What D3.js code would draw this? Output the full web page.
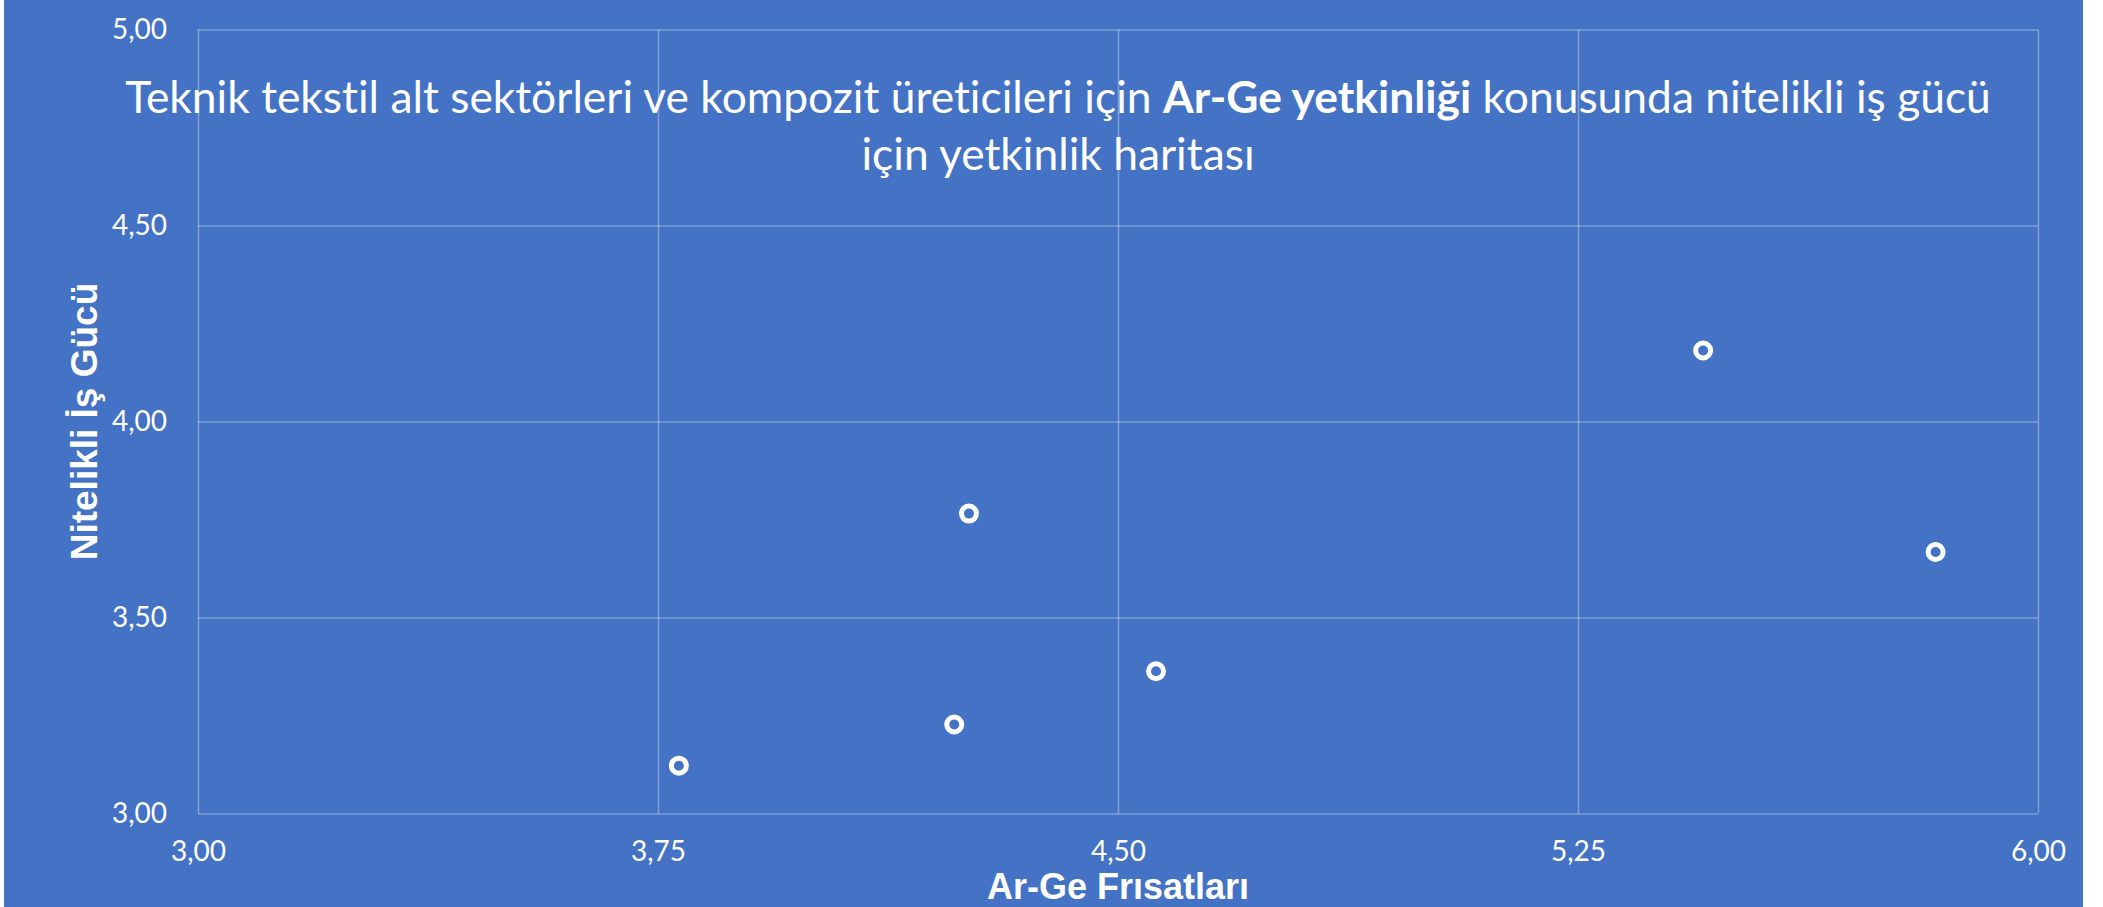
<!DOCTYPE html>
<html>
<head>
<meta charset="utf-8">
<script src="https://cdn.jsdelivr.net/npm/d3@7"></script>
<style>
  html, body { margin: 0; padding: 0; background: #ffffff; }
  svg { display: block; }
  text { font-variant-ligatures: none; }
</style>
</head>
<body>
<script>
// chart values
const xTicks   = [3.00, 3.75, 4.50, 5.25, 6.00];
const yTicks   = [3.00, 3.50, 4.00, 4.50, 5.00];
const argeX    = [3.784, 4.233, 4.257, 4.562, 5.454, 5.833];   // Ar-Ge Fırsatları
const isgucuY  = [3.122, 3.227, 3.765, 3.363, 4.181, 3.667];   // Nitelikli İş Gücü
const titleLine1 = ["Teknik tekstil alt sektörleri ve kompozit üreticileri için ", "Ar-Ge yetkinliği", " konusunda nitelikli iş gücü"];
const titleLine2 = "için yetkinlik haritası";
const xTitle = "Ar-Ge Frısatları";
const yTitle = "Nitelikli İş Gücü";

const W = 2103, H = 907;
const margin = {top: 29.5, left: 198, right: 65, bottom: 93.5};
const width  = W - margin.left - margin.right;
const height = H - margin.top - margin.bottom;

const blue = "#4472C4";
const fmt = d3.formatLocale({decimal: ",", thousands: ".", grouping: [3], currency: ["", ""]}).format(".2f");

const svg = d3.select("body").append("svg")
  .attr("width", W)
  .attr("height", H);

// slide background
svg.append("rect")
  .attr("x", 4).attr("y", 0)
  .attr("width", 2079).attr("height", H)
  .attr("fill", blue);

const xScale = d3.scaleLinear().domain([3, 6]).range([0, width]);
const yScale = d3.scaleLinear().domain([3, 5]).range([height, 0]);

const plot = svg.append("g")
  .attr("transform", `translate(${margin.left},${margin.top})`);

const xAxis = d3.axisBottom(xScale).tickValues(xTicks).tickFormat(fmt)
  .tickSize(-height).tickPadding(28);
const yAxis = d3.axisLeft(yScale).tickValues(yTicks).tickFormat(fmt)
  .tickSize(-width).tickPadding(31);

const gx = plot.append("g")
  .attr("transform", `translate(0,${height})`)
  .call(xAxis);
const gy = plot.append("g").call(yAxis);

[gx, gy].forEach(g => {
  g.select(".domain").remove();
  g.selectAll(".tick line")
    .attr("stroke", "#ffffff")
    .attr("stroke-opacity", 0.32)
    .attr("stroke-width", 1.5);
  g.selectAll(".tick text")
    .attr("fill", "#ffffff")
    .style("font-family", "Lato, 'Open Sans', sans-serif")
    .style("font-size", "28px");
});

// points
plot.append("g")
  .selectAll("circle")
  .data(d3.zip(argeX, isgucuY))
  .join("circle")
  .attr("cx", d => xScale(d[0]))
  .attr("cy", d => yScale(d[1]))
  .attr("r", 7.5)
  .attr("fill", blue)
  .attr("stroke", "#ffffff")
  .attr("stroke-width", 5);

// title
const title = svg.append("g")
  .style("font-family", "Lato, 'Open Sans', sans-serif")
  .attr("fill", "#ffffff")
  .attr("text-anchor", "middle");

const t1 = title.append("text")
  .attr("x", 1058).attr("y", 113)
  .style("font-size", "44px");
t1.selectAll("tspan")
  .data(titleLine1)
  .join("tspan")
  .style("font-weight", (d, i) => i === 1 ? "bold" : "normal")
  .text(d => d);

const t2 = title.append("text")
  .attr("x", 1058).attr("y", 170)
  .style("font-size", "44px")
  .text(titleLine2);

// fit the first title line to the width it has in the picture
const w1 = t1.node().getComputedTextLength();
const fs = 44 * 1866 / w1;
t1.style("font-size", fs + "px");
t2.style("font-size", fs + "px");

// axis titles
svg.append("text")
  .attr("x", margin.left + width / 2)
  .attr("y", 899)
  .attr("text-anchor", "middle")
  .attr("fill", "#ffffff")
  .style("font-family", "'Liberation Sans', Arial, sans-serif")
  .style("font-weight", "bold")
  .style("font-size", "36px")
  .text(xTitle);

svg.append("text")
  .attr("transform", `translate(97,${margin.top + height / 2}) rotate(-90)`)
  .attr("text-anchor", "middle")
  .attr("fill", "#ffffff")
  .style("font-family", "'Liberation Sans', Arial, sans-serif")
  .style("font-weight", "bold")
  .style("font-size", "37px")
  .text(yTitle);
</script>
</body>
</html>
